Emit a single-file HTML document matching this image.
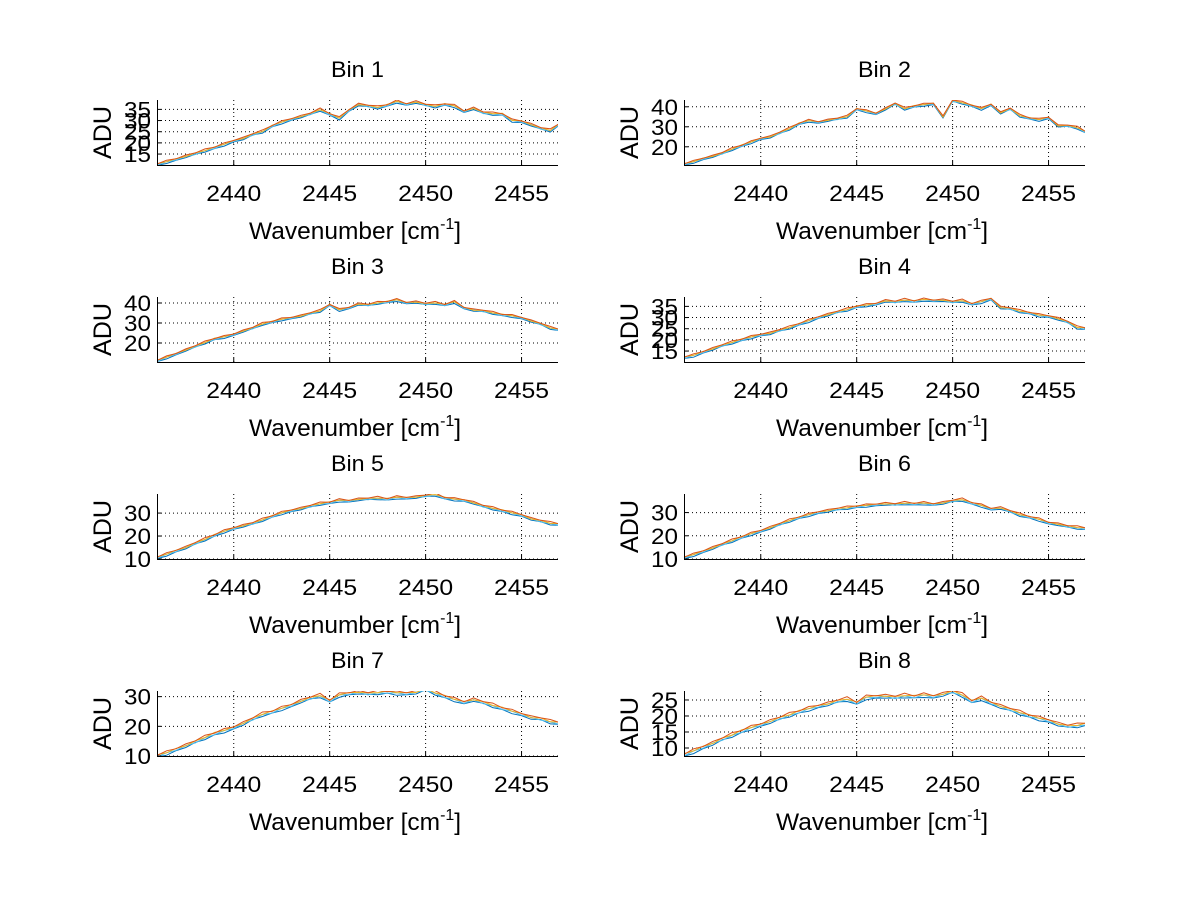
<!DOCTYPE html>
<html><head><meta charset="utf-8"><style>
html,body{margin:0;padding:0;background:#fff}
svg{display:block;font-family:"Liberation Sans",Arial,sans-serif}
</style></head><body>
<svg id="fig" width="1200" height="901" viewBox="0 0 1200 901"></svg>
<script>
const xStart = 2436;
const xStep = 0.5;
const xTicks = [2440, 2445, 2450, 2455];
const binTitles = ["Bin 1","Bin 2","Bin 3","Bin 4","Bin 5","Bin 6","Bin 7","Bin 8"];
const yLims = [[10.1,39.2],[10.9,43.4],[10.5,43],[10.1,39.2],[10,38.3],[10,38],[10,31.9],[7.5,27.8]];
const yTicks = [[15,20,25,30,35],[20,30,40],[20,30,40],[15,20,25,30,35],[10,20,30],[10,20,30],[10,20,30],[10,15,20,25]];
const bin1 = [10.3,11.5,12.6,14,15.2,16.5,17.8,19.3,20.8,22,23.8,25,27.5,29.2,30.5,31.8,33,34.8,32.8,31,34.5,37.2,36.5,35.8,36.8,38.5,37.2,38.3,37,36.3,37.2,36.5,34,35.5,33.5,33,32.8,30,29.5,28.2,26.5,25.5,28.5];
const bin2 = [11.2,12.5,14,15.3,16.8,18.8,20.5,22.3,24,25,27,29,31.5,33,32.2,33.3,34,35,38.8,37.8,36.5,39,41.5,39,40.2,41,41.5,35,43,42,40.5,39,41,37,39,35.5,34.2,33.5,34.5,30.5,30.5,29.5,27];
const bin3 = [11,12.8,14.5,16.5,18.3,20.2,22,23,24.2,26,27.5,29.5,30.5,31.8,32.5,33.5,34.8,36,39,36.5,37.5,39.5,39,40,40.5,41.5,40,40.5,39.5,40,39,40.5,37.5,36.5,36,35,34,33.5,32.5,31,29.5,27.5,26.5];
const bin4 = [12,13,14.5,16,17.5,18.8,20,21.2,22.2,23,24.3,25.5,27,28.5,30,31.3,32.5,33.5,34.8,35.5,36,37.5,37,37.8,37.2,38,37.5,37.8,37,37.5,36,37,38.3,34.5,34,32.8,32,31,30.5,29.5,28,25.5,25];
const bin5 = [10.5,12,13.5,15,16.8,18.5,20.3,22,23.3,24.5,25.5,27,28.5,30,31,32,33,34,34.5,35.5,35.2,36,36.2,36.5,36,36.8,36.5,37,37.5,38,36.5,36,35.5,34.5,33,32,31,30,29,27.5,26.5,25.5,25];
const bin6 = [10.5,11.8,13.2,14.8,16.3,17.8,19.3,20.8,22,23.5,25,26.5,27.8,29,30,30.8,31.5,32,32.5,33,33.3,33.8,33.5,34,33.7,34,33.5,34.2,35,35.5,34,33,31.5,32,30.5,29,28,27,25.5,25,24,23.5,23];
const bin7 = [10,11,12.2,13.5,14.8,16.2,17.5,18.5,19.5,21,22.5,24,24.8,26,27,28.5,29.5,30.3,28.5,30.5,31,31.5,31,31.3,31.5,31.2,31,31.5,32.5,31.2,30,29,28,29,28,27,26,25,24,23,22.5,21.5,21];
const bin8 = [7.8,9,10.2,11.5,12.8,14,15.2,16.3,17.2,18.3,19.3,20.3,21.3,22.2,23,23.8,24.6,25.2,24,25.8,26,26.2,25.8,26.3,26,26.5,26,26.8,27.6,26.5,24.5,25.5,24,23,22,21,20,19.2,18.5,17.5,16.8,17,17.5];
const bins = [bin1,bin2,bin3,bin4,bin5,bin6,bin7,bin8];
const seriesOffsets = [-0.5, -0.15, 0.2, 0.45];
const seriesColors = ["#0072BD","#4DBEEE","#EDB120","#D95319"];
const seriesWiggle = [[0.3,-0.4,0.2,-0.2,0.5,-0.3],[-0.3,0.4,-0.2,0.3,-0.4,0.2],[0.4,-0.2,0.3,-0.5,0.2,-0.3],[-0.4,0.5,-0.3,0.2,-0.2,0.6]];

const NS = "http://www.w3.org/2000/svg";
const svg = document.getElementById("fig");
const colX = [157, 684];
const rowTop = [100, 297, 494, 691];
const W = 401, H = 65;
const xMin = 2436, xMax = 2456.9;

function mk(tag, attrs, parent){
  const e = document.createElementNS(NS, tag);
  for (const k in attrs) e.setAttribute(k, attrs[k]);
  (parent||svg).appendChild(e);
  return e;
}

bins.forEach((vals, b) => {
  const col = b % 2, row = Math.floor(b / 2);
  const x0 = colX[col], top = rowTop[row], bottom = top + H;
  const [ymin, ymax] = yLims[b];
  const sx = v => x0 + (v - xMin) / (xMax - xMin) * W;
  const sy = v => bottom - (v - ymin) / (ymax - ymin) * H;
  const g = mk("g", {});
  
  

  const clipId = "clip" + b;
  const cp = mk("clipPath", {id: clipId}, g);
  mk("rect", {x: x0, y: top, width: W, height: H}, cp);

  xTicks.forEach(t => {
    const l = mk("line", {x1: sx(t), x2: sx(t), y1: top, y2: bottom, stroke: "#000", "stroke-width": 1, "stroke-dasharray": "1,3"}, g);
    
    
  });
  yTicks[b].forEach(t => {
    const l = mk("line", {x1: x0, x2: x0 + W, y1: sy(t), y2: sy(t), stroke: "#000", "stroke-width": 1, "stroke-dasharray": "1,3"}, g);
    
    
  });

  seriesOffsets.forEach((off, s) => {
    const pts = vals.map((v, i) => {
      const w = seriesWiggle[s][i % seriesWiggle[s].length];
      return sx(xStart + i * xStep).toFixed(1) + "," + sy(v + off + w * 0.6).toFixed(1);
    }).join(" ");
    const pl = mk("polyline", {points: pts, fill: "none", stroke: seriesColors[s], "stroke-width": 1, "clip-path": "url(#" + clipId + ")"}, g);
    
    
  });

  const ax = mk("path", {d: `M${x0+0.5},${top} V${bottom+0.5} H${x0+W}`, fill: "none", stroke: "#000", "stroke-width": 1}, g);
  
  
  xTicks.forEach(t => {
    mk("line", {x1: sx(t), x2: sx(t), y1: bottom, y2: bottom - 4, stroke: "#000"}, g);
    const tx = mk("text", {x: sx(t), y: bottom + 36, "text-anchor": "middle", "font-size": 22, textLength: 55, lengthAdjust: "spacingAndGlyphs"}, g);
    tx.textContent = t;
    
    
  });
  yTicks[b].forEach(t => {
    mk("line", {x1: x0, x2: x0 + 4, y1: sy(t), y2: sy(t), stroke: "#000"}, g);
    const ty = mk("text", {x: x0 - 6, y: sy(t) + 8, "text-anchor": "end", "font-size": 22, textLength: 27, lengthAdjust: "spacingAndGlyphs"}, g);
    ty.textContent = t;
    
    
  });

  const title = mk("text", {x: x0 + W/2, y: top - 23, "text-anchor": "middle", "font-size": 22, textLength: 53, lengthAdjust: "spacingAndGlyphs"}, g);
  title.textContent = binTitles[b];
  
  

  const xl = mk("text", {x: x0 + 92, y: bottom + 74, "font-size": 24.5}, g);
  
  
  const t1 = mk("tspan", {}, xl); t1.textContent = "Wavenumber [cm";
  const t2 = mk("tspan", {dy: -10, "font-size": 16}, xl); t2.textContent = "-1";
  const t3 = mk("tspan", {dy: 10}, xl); t3.textContent = "]";

  const yl = mk("text", {x: 0, y: 0, "text-anchor": "middle", "font-size": 25, transform: `translate(${x0 - 46},${top + H/2}) rotate(-90)`, textLength: 53, lengthAdjust: "spacingAndGlyphs"}, g);
  yl.textContent = "ADU";
  
  
});
</script>
</body></html>
